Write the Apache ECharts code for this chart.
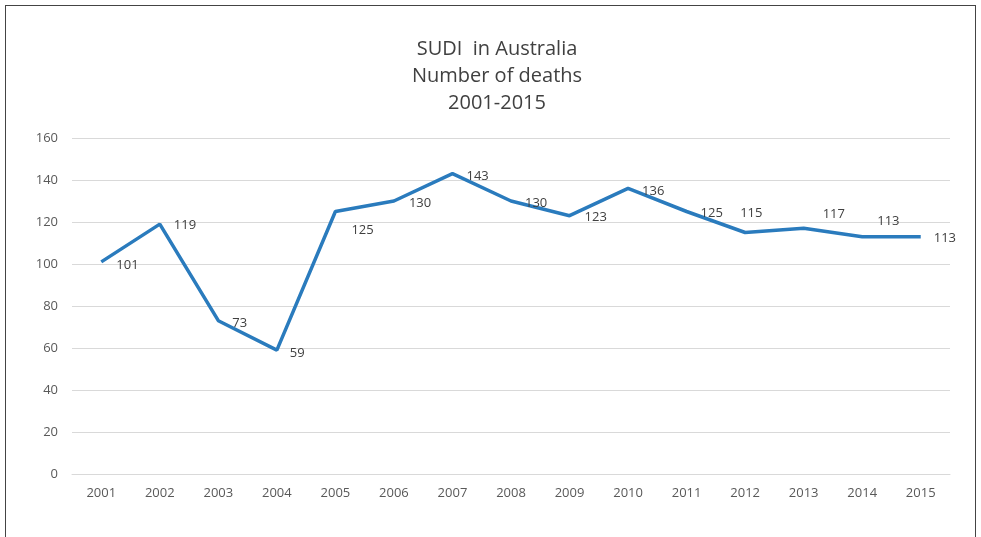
<!DOCTYPE html>
<html>
<head>
<meta charset="utf-8">
<script src="https://cdn.jsdelivr.net/npm/echarts@6/dist/echarts.min.js"></script>
<style>
  html, body { margin: 0; padding: 0; background: #fff; }
  #frame { position: absolute; left: 5px; top: 5px; width: 969px; height: 540px;
    border-left: 1px solid #444; border-top: 1px solid #444; border-right: 1px solid #444; }
  #chart { position: absolute; left: 0; top: 0; width: 981px; height: 537px; }
</style>
</head>
<body>
<div id="frame"></div>
<div id="chart"></div>
<script>
// 数据
const years = ['2001','2002','2003','2004','2005','2006','2007','2008','2009','2010','2011','2012','2013','2014','2015'];
const deaths = [101, 119, 73, 59, 125, 130, 143, 130, 123, 136, 125, 115, 117, 113, 113];
// 标签偏移 [dx, dy]
const labelShift = [
  [9, 3], [8, 1], [8, 3], [7, 3], [10, 19], [9, 2], [8, 3], [8, 2],
  [9, 2], [8, 3], [8, 2], [-11, -19], [13, -14], [9, -15], [7, 2]
];

const myChart = echarts.init(document.getElementById('chart'));

const option = {
  animation: false,
  title: {
    text: 'SUDI  in Australia\nNumber of deaths\n2001-2015',
    left: 492, top: 31, textAlign: 'center',
    textStyle: { fontFamily: 'Open Sans', fontSize: 20, fontWeight: 'normal', color: '#404040', lineHeight: 27 }
  },
  grid: { left: 72, right: 31, top: 138, bottom: 63 },
  xAxis: {
    type: 'category',
    data: years,
    axisLine: { lineStyle: { color: '#d9d9d9', width: 1 } },
    axisTick: { show: false },
    axisLabel: { color: '#595959', fontSize: 13, margin: 13, fontFamily: 'Open Sans' }
  },
  yAxis: {
    type: 'value',
    min: 0, max: 160, interval: 20,
    axisLabel: { color: '#595959', fontSize: 13, margin: 14, fontFamily: 'Open Sans' },
    splitLine: { lineStyle: { color: '#d9d9d9', width: 1 } }
  },
  series: [{
    type: 'line',
    data: deaths.map((v, i) => ({
      value: v,
      label: { offset: labelShift[i] }
    })),
    symbol: 'circle',
    symbolSize: 0,
    showSymbol: true,
    lineStyle: { color: '#2a7bbd', width: 3.5 },
    itemStyle: { color: '#2a7bbd' },
    label: {
      show: true, position: 'right', distance: 6,
      color: '#404040', fontSize: 13, fontFamily: 'Open Sans'
    }
  }]
};

myChart.setOption(option);
</script>
</body>
</html>
